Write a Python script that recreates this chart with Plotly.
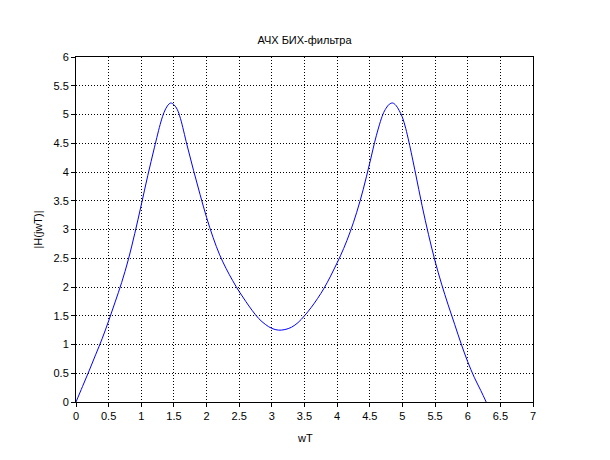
import plotly.graph_objects as go

# Values
wT = [0.0, 0.1, 0.2, 0.3, 0.4, 0.5, 0.6, 0.7, 0.8, 0.9, 1.0, 1.1, 1.2, 1.3, 1.35, 1.4,
      1.45, 1.5, 1.55, 1.6, 1.7, 1.8, 1.9, 2.0, 2.1, 2.2, 2.3, 2.4, 2.5, 2.6, 2.7, 2.8,
      2.9, 3.0, 3.1, 3.2, 3.3, 3.4, 3.5, 3.6, 3.7, 3.8, 3.9, 4.0, 4.1, 4.2, 4.3, 4.4,
      4.5, 4.6, 4.7, 4.75, 4.8, 4.85, 4.9, 4.95, 5.0, 5.05, 5.1, 5.2, 5.3, 5.4, 5.5,
      5.6, 5.7, 5.8, 5.9, 6.0, 6.1, 6.2, 6.283]
H = [0.0, 0.27, 0.54, 0.82, 1.1, 1.41, 1.74, 2.08, 2.47, 2.93, 3.43, 3.94, 4.42, 4.87, 5.04, 5.15,
     5.2, 5.17, 5.09, 4.93, 4.47, 4.03, 3.61, 3.21, 2.86, 2.56, 2.32, 2.11, 1.92, 1.75, 1.59, 1.45,
     1.35, 1.28, 1.25, 1.26, 1.3, 1.38, 1.5, 1.64, 1.8, 1.98, 2.19, 2.42, 2.67, 2.96, 3.3, 3.7,
     4.16, 4.63, 5.0, 5.11, 5.18, 5.2, 5.16, 5.07, 4.95, 4.76, 4.52, 3.98, 3.42, 2.91, 2.45,
     2.05, 1.69, 1.35, 1.01, 0.7, 0.43, 0.2, 0.0]

title_text = "АЧХ БИХ-фильтра"
x_label = "wT"
y_label = "|H(jwT)|"

fig = go.Figure()
fig.add_trace(go.Scatter(x=wT, y=H, mode="lines",
                         line=dict(color="#0000ff", width=1, shape="spline", smoothing=1.0),
                         showlegend=False, hoverinfo="skip"))

axis_common = dict(
    showgrid=True, gridcolor="black", griddash="1px,2px", gridwidth=1,
    showline=True, linecolor="black", linewidth=1, mirror=True,
    ticks="outside", ticklen=4, tickcolor="black", zeroline=False,
    tickfont=dict(family="Liberation Sans, Arial, sans-serif", size=11, color="black"),
    dtick=0.5, tick0=0,
)

fig.update_layout(
    width=610, height=460,
    margin=dict(l=68, r=85, t=49, b=66),
    paper_bgcolor="white", plot_bgcolor="white",
    xaxis=dict(range=[0, 7], **axis_common),
    yaxis=dict(range=[0, 6], **axis_common),
    font=dict(family="Liberation Sans, Arial, sans-serif", size=11, color="black"),
    title=dict(text=title_text, x=0.5, xanchor="center", xref="paper",
               y=1 - 32 / 460, yref="container", yanchor="middle",
               font=dict(size=11, color="black")),
    annotations=[
        dict(text=x_label, xref="paper", yref="paper", x=0.5, y=0, yshift=-36,
             showarrow=False, xanchor="center", yanchor="middle", font=dict(size=11)),
        dict(text=y_label, xref="paper", yref="paper", x=0, y=0.5, xshift=-39,
             showarrow=False, xanchor="center", yanchor="middle", textangle=-90, font=dict(size=11)),
    ],
)

fig.write_html("out.html")
